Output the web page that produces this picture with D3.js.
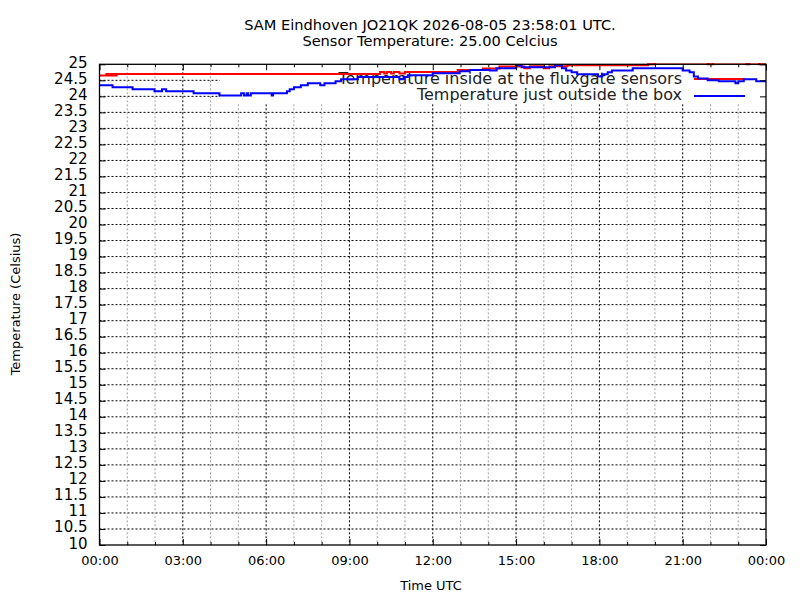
<!DOCTYPE html>
<html>
<head>
<meta charset="utf-8">
<script src="https://cdn.jsdelivr.net/npm/d3@7"></script>
<style>
html,body{margin:0;padding:0;background:#fff}
svg{display:block;font-family:"DejaVu Sans",sans-serif}
</style>
</head>
<body>
<svg id="chart" width="800" height="600"></svg>
<script>
// ---------------- data ----------------
const titleLines = ["SAM Eindhoven JO21QK 2026-08-05 23:58:01 UTC.", "Sensor Temperature: 25.00 Celcius"];
const xAxisTitle = "Time UTC";
const yAxisTitle = "Temperature (Celsius)";
const seriesNames = ["Temperature inside at the fluxgate sensors", "Temperature just outside the box"];
const seriesColors = ["#ff0000", "#0000ff"];

const xTickValues = [0, 3, 6, 9, 12, 15, 18, 21, 24];
const xTickLabels = ["00:00", "03:00", "06:00", "09:00", "12:00", "15:00", "18:00", "21:00", "00:00"];
const xMinorTicks = [1, 2, 4, 5, 7, 8, 10, 11, 13, 14, 16, 17, 19, 20, 22, 23];
const yTickValues = [10, 10.5, 11, 11.5, 12, 12.5, 13, 13.5, 14, 14.5, 15, 15.5, 16, 16.5, 17, 17.5, 18, 18.5, 19, 19.5, 20, 20.5, 21, 21.5, 22, 22.5, 23, 23.5, 24, 24.5, 25];
const yTickLabels = ["10", "10.5", "11", "11.5", "12", "12.5", "13", "13.5", "14", "14.5", "15", "15.5", "16", "16.5", "17", "17.5", "18", "18.5", "19", "19.5", "20", "20.5", "21", "21.5", "22", "22.5", "23", "23.5", "24", "24.5", "25"];

// inside (red): hours UTC and temperature (step data)
const insideHours = [0, 0.25, 0.32, 0.40, 0.45, 0.52, 0.56, 0.62, 10.1, 10.25, 10.35, 10.5, 10.6, 10.8, 11.0, 12.9, 13.8, 14.4, 15.3, 15.5, 16.0, 16.2, 16.85, 19.75, 20.0, 21.9, 22.1, 23.3, 23.4, 23.75, 24];
const insideTemps = [24.65, 24.70, 24.65, 24.70, 24.65, 24.70, 24.65, 24.70, 24.76, 24.71, 24.76, 24.71, 24.76, 24.71, 24.76, 24.82, 24.87, 24.93, 24.88, 24.94, 24.88, 24.94, 24.97, 25.00, 25.06, 25.00, 25.06, 25.00, 25.06, 25.00, 25.00];

// outside (blue)
const outsideHours = [0, 0.47, 1.19, 1.98, 2.25, 2.4, 3.39, 4.32, 5.1, 5.2, 5.3, 5.35, 5.45, 6.2, 6.25, 6.75, 6.85, 7.0, 7.25, 7.5, 7.95, 8.1, 8.35, 8.5, 8.7, 9.3, 10.8, 10.95, 11.1, 12.0, 12.97, 13.33, 14.05, 14.3, 15.0, 15.2, 16.4, 16.65, 16.8, 17.0, 17.2, 17.95, 18.1, 18.3, 18.45, 19.2, 21.0, 21.25, 21.4, 21.55, 21.9, 22.3, 22.9, 23.0, 23.2, 23.65, 24];
const outsideTemps = [24.35, 24.28, 24.22, 24.16, 24.22, 24.16, 24.10, 24.03, 24.10, 24.03, 24.10, 24.03, 24.10, 24.03, 24.10, 24.16, 24.22, 24.28, 24.35, 24.41, 24.35, 24.41, 24.41, 24.47, 24.53, 24.60, 24.53, 24.60, 24.66, 24.72, 24.78, 24.82, 24.81, 24.88, 24.97, 24.91, 24.97, 24.88, 24.81, 24.75, 24.69, 24.62, 24.69, 24.75, 24.81, 24.88, 24.81, 24.75, 24.62, 24.56, 24.50, 24.47, 24.41, 24.47, 24.53, 24.47, 24.47];

// ---------------- layout ----------------
const W = 800, H = 600;
const plot = {left: 99.5, right: 766, top: 64.3, bottom: 545};

const svg = d3.select("#chart");
svg.append("rect").attr("width", W).attr("height", H).attr("fill", "#fff");

const x = d3.scaleLinear().domain([0, 24]).range([plot.left, plot.right]);
const y = d3.scaleLinear().domain([10, 25]).range([plot.bottom, plot.top]);

// ---------------- grid ----------------
const grid = svg.append("g").attr("class", "grid").attr("fill", "none");
grid.selectAll("line.hg").data(yTickValues.filter(v => v > 10 && v < 25)).join("line")
  .attr("class", "hg")
  .attr("x1", plot.left).attr("x2", plot.right)
  .attr("y1", d => y(d)).attr("y2", d => y(d))
  .attr("stroke", "#000").attr("stroke-width", 1).attr("stroke-dasharray", "2,2");
grid.selectAll("line.vmin").data(xMinorTicks).join("line")
  .attr("class", "vmin")
  .attr("x1", d => x(d)).attr("x2", d => x(d))
  .attr("y1", plot.top).attr("y2", plot.bottom)
  .attr("stroke", "#a0a0a0").attr("stroke-width", 1).attr("stroke-dasharray", "2,2");
grid.selectAll("line.vmaj").data(xTickValues.filter(v => v > 0 && v < 24)).join("line")
  .attr("class", "vmaj")
  .attr("x1", d => x(d)).attr("x2", d => x(d))
  .attr("y1", plot.top).attr("y2", plot.bottom)
  .attr("stroke", "#000").attr("stroke-width", 1).attr("stroke-dasharray", "2,2");

// ---------------- opaque key box ----------------
const key = svg.append("g").attr("class", "key");
key.append("rect")
  .attr("x", 220).attr("y", plot.top).attr("width", plot.right - 220).attr("height", 103 - plot.top)
  .attr("fill", "#fff");
const keyRows = [{text: seriesNames[0], base: 83.5, line: 79, color: seriesColors[0]},
                 {text: seriesNames[1], base: 100, line: 96, color: seriesColors[1]}];
keyRows.forEach(r => {
  key.append("text").attr("x", 682).attr("y", r.base).attr("text-anchor", "end")
    .attr("font-size", 16).attr("fill", "#222").text(r.text);
  key.append("line").attr("x1", 694).attr("x2", 745).attr("y1", r.line).attr("y2", r.line)
    .attr("stroke", r.color).attr("stroke-width", 2);
});

// ---------------- data lines ----------------
svg.append("clipPath").attr("id", "clip").append("rect")
  .attr("x", plot.left).attr("y", plot.top - 1.3).attr("width", plot.right - plot.left).attr("height", plot.bottom - plot.top + 1.3);

const line = d3.line().x(d => x(d[0])).y(d => y(d[1])).curve(d3.curveStepAfter);
const inside = insideHours.map((h, i) => [h, insideTemps[i]]);
const outside = outsideHours.map((h, i) => [h, outsideTemps[i]]);

const dataG = svg.append("g").attr("clip-path", "url(#clip)");
dataG.append("path").datum(inside).attr("d", line)
  .attr("fill", "none").attr("stroke", seriesColors[0]).attr("stroke-width", 2);
dataG.append("path").datum(outside).attr("d", line)
  .attr("fill", "none").attr("stroke", seriesColors[1]).attr("stroke-width", 2);

// ---------------- axes ----------------
function styleAxis(g) {
  g.select(".domain").remove();
  g.selectAll(".tick line").attr("stroke", "#000").attr("stroke-width", 1);
  g.selectAll(".tick text").attr("fill", "#000");
}
svg.append("g").attr("transform", `translate(0,${plot.bottom})`)
  .call(d3.axisBottom(x).tickValues(xTickValues).tickFormat((d, i) => xTickLabels[i])
    .tickSizeInner(-6).tickSizeOuter(0).tickPadding(11))
  .attr("font-size", 13).attr("font-family", "DejaVu Sans, sans-serif")
  .call(styleAxis);
svg.append("g").attr("transform", `translate(0,${plot.bottom})`)
  .call(d3.axisBottom(x).tickValues(xMinorTicks).tickFormat("").tickSizeInner(-3).tickSizeOuter(0))
  .call(styleAxis);
svg.append("g").attr("transform", `translate(0,${plot.top})`)
  .call(d3.axisTop(x).tickValues(xTickValues).tickFormat("").tickSizeInner(-6).tickSizeOuter(0))
  .call(styleAxis);
svg.append("g").attr("transform", `translate(0,${plot.top})`)
  .call(d3.axisTop(x).tickValues(xMinorTicks).tickFormat("").tickSizeInner(-3).tickSizeOuter(0))
  .call(styleAxis);
svg.append("g").attr("transform", `translate(${plot.left},0)`)
  .call(d3.axisLeft(y).tickValues(yTickValues).tickFormat((d, i) => yTickLabels[i])
    .tickSizeInner(-6).tickSizeOuter(0).tickPadding(12))
  .attr("font-size", 15).attr("font-family", "DejaVu Sans, sans-serif")
  .call(styleAxis)
  .call(g => g.selectAll(".tick text").attr("dy", "0.2em"));
svg.append("g").attr("transform", `translate(${plot.right},0)`)
  .call(d3.axisRight(y).tickValues(yTickValues).tickFormat("").tickSizeInner(-6).tickSizeOuter(0))
  .call(styleAxis);

// frame
svg.append("rect").attr("x", plot.left).attr("y", plot.top)
  .attr("width", plot.right - plot.left).attr("height", plot.bottom - plot.top)
  .attr("fill", "none").attr("stroke", "#000").attr("stroke-width", 1.3);

// ---------------- titles ----------------
svg.append("g").selectAll("text").data(titleLines).join("text")
  .attr("x", 430).attr("y", (d, i) => 29.5 + i * 16)
  .attr("text-anchor", "middle").attr("font-size", 14.6).attr("fill", "#000").text(d => d);
svg.append("text").attr("x", 431).attr("y", 590).attr("text-anchor", "middle")
  .attr("font-size", 13).attr("fill", "#000").text(xAxisTitle);
svg.append("text").attr("transform", "translate(20,304) rotate(-90)").attr("text-anchor", "middle")
  .attr("font-size", 13).attr("fill", "#000").text(yAxisTitle);
</script>
</body>
</html>
